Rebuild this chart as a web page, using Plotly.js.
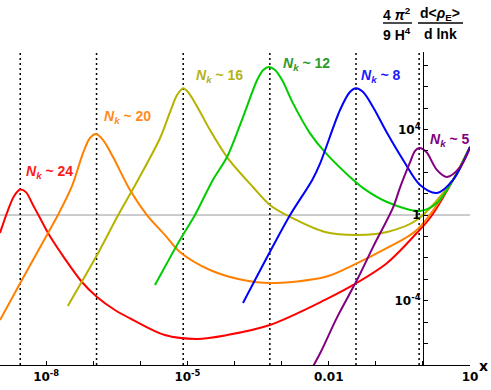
<!DOCTYPE html>
<html>
<head>
<meta charset="utf-8">
<script src="https://cdn.plot.ly/plotly-3.0.1.min.js"></script>
<style>
  html, body { margin: 0; padding: 0; background: #fff; }
  #chart { width: 491px; height: 390px; }
</style>
</head>
<body>
<div id="chart"></div>
<script>
// curves, as log10(x) and log10(y)
const redLogX = [-8.98, -8.81, -8.68, -8.55, -8.43, -8.28, -8.13, -7.96, -7.70, -7.24, -6.92, -6.54, -6.15, -5.48, -4.80, -4.16, -3.25, -2.08, -1.48, -0.76, -0.13, 0.15, 0.64, 1.0];
const redLogY = [-0.84, 0.23, 0.89, 1.19, 1.07, 0.47, -0.14, -0.84, -1.73, -3.13, -3.83, -4.44, -4.91, -5.61, -5.79, -5.61, -5.14, -3.97, -3.27, -2.24, -0.84, -0.14, 1.64, 3.18];

const orangeLogX = [-8.98, -8.55, -7.96, -7.75, -7.45, -7.21, -7.07, -6.94, -6.79, -6.58, -6.22, -5.86, -5.48, -5.16, -4.52, -3.82, -3.25, -2.08, -1.48, -0.76, -0.13, 0.64, 1.0];
const orangeLogY = [-4.91, -3.18, -0.84, 0, 1.36, 2.94, 3.60, 3.79, 3.50, 2.71, 1.17, 0, -0.93, -1.73, -2.57, -3.04, -3.18, -2.90, -2.34, -1.54, -0.70, 1.64, 3.18];

const yellowLogX = [-7.54, -6.92, -6.47, -6.05, -5.58, -5.37, -5.22, -5.09, -4.97, -4.73, -4.52, -4.16, -3.61, -3.25, -2.82, -2.08, -1.40, -0.76, -0.13, 0.64, 1.0];
const yellowLogY = [-4.25, -1.87, 0, 1.64, 3.60, 4.81, 5.61, 5.93, 5.70, 4.81, 3.97, 2.71, 1.31, 0.47, -0.09, -0.79, -0.93, -0.79, -0.23, 1.64, 3.18];

const greenLogX = [-5.69, -5.48, -5.16, -4.84, -4.46, -4.16, -3.82, -3.52, -3.39, -3.27, -3.14, -2.99, -2.76, -2.40, -2.08, -1.48, -1.27, -0.76, -0.06, 0.30, 0.64, 1.0];
const greenLogY = [-3.27, -2.43, -1.17, 0, 1.64, 2.71, 4.58, 6.31, 6.78, 6.92, 6.78, 6.31, 5.23, 3.83, 2.94, 1.64, 1.26, 0.61, 0.19, 0.56, 1.64, 3.18];

const blueLogX = [-3.82, -3.25, -2.82, -2.35, -2.18, -1.76, -1.55, -1.42, -1.27, -1.06, -0.76, -0.42, -0.06, 0.30, 0.64, 1.0];
const blueLogY = [-4.11, -1.73, 0, 1.64, 2.43, 4.91, 5.75, 5.93, 5.75, 5.05, 3.83, 2.57, 1.40, 1.03, 1.64, 3.18];

const purpleLogX = [-2.40, -2.18, -1.82, -1.40, -1.06, -0.63, -0.49, -0.27, -0.17, -0.08, 0.0, 0.09, 0.30, 0.51, 0.79, 1.0];
const purpleLogY = [-7.34, -6.45, -4.77, -3.04, -1.50, 0.37, 1.26, 2.48, 2.99, 3.13, 3.08, 2.90, 2.10, 1.78, 2.24, 3.13];

// positions of the peaks (dotted lines), log10(x)
const peakLogX = [-8.55, -6.93, -5.09, -3.25, -1.42, -0.08];

const labels = ["24", "20", "16", "12", "8", "5"];
const curveColors = ["#ff0000", "#ff8000", "#b3b300", "#00cc00", "#0000ff", "#800080"];
const labelColors = ["#ff1a1a", "#ff8c1a", "#b3b31a", "#2e992e", "#1a1aff", "#800080"];
// label centres in pixels of the picture
const labelPx = [[49, 172], [127, 117], [219, 76], [306, 64], [381, 76], [450, 140]];

const xTickExp = [-8, -7, -6, -5, -4, -3, -2, -1, 0, 1];
const xTickText = ["10<sup>-8</sup>", "", "", "10<sup>-5</sup>", "", "", "0.01", "", "", "10"];
const yTickExp = [-7, -6, -5, -4, -3, -2, -1, 0, 1, 2, 3, 4, 5, 6, 7];
const yTickText = ["", "", "", "10<sup>-4</sup>", "", "", "", "1", "", "", "", "10<sup>4</sup>", "", "", ""];

const xRange = [-8.98, 1.0];
const yRange = [-7.01, 7.62];

const pow = (a) => a.map((v) => Math.pow(10, v));

const curves = [
  [redLogX, redLogY], [orangeLogX, orangeLogY], [yellowLogX, yellowLogY],
  [greenLogX, greenLogY], [blueLogX, blueLogY], [purpleLogX, purpleLogY],
];

const traces = curves.map(([lx, ly], i) => ({
  x: pow(lx),
  y: pow(ly),
  type: "scatter",
  mode: "lines",
  line: { color: curveColors[i], width: 2, shape: "spline", smoothing: 0.9 },
  hoverinfo: "skip",
}));

// plot area in pixels
const L = 0, R = 21, T = 52, B = 25, W = 491, H = 390;
const pw = W - L - R, ph = H - T - B;
const px = (x) => (x - L) / pw;
const py = (y) => (H - B - y) / ph;

const tickFont = { family: "DejaVu Sans", size: 12, color: "#000", weight: "bold" };

const shapes = [
  { type: "line", xref: "paper", x0: 0, x1: 1, yref: "y", y0: 1, y1: 1, layer: "below",
    line: { color: "#999", width: 1 } },
  ...peakLogX.map((v) => ({
    type: "line", xref: "x", x0: Math.pow(10, v), x1: Math.pow(10, v), yref: "paper", y0: 0, y1: 1,
    layer: "below", line: { color: "#000", width: 1.5, dash: "2px,3px" },
  })),
  { type: "line", xref: "paper", yref: "paper", x0: px(383), x1: px(412), y0: py(23), y1: py(23),
    line: { color: "#000", width: 1.4 } },
  { type: "line", xref: "paper", yref: "paper", x0: px(418), x1: px(463), y0: py(23), y1: py(23),
    line: { color: "#000", width: 1.4 } },
];

const labFont = { family: "Liberation Sans", size: 14, weight: "bold" };
const fracFont = { ...labFont, size: 14, color: "#000" };
const annotations = [
  ...labels.map((t, i) => ({
    xref: "paper", yref: "paper", x: px(labelPx[i][0]), y: py(labelPx[i][1]),
    xanchor: "center", yanchor: "middle", showarrow: false,
    text: `<i>N<sub>k</sub></i> ~ ${t}`,
    font: { ...labFont, color: labelColors[i] },
  })),
  { xref: "paper", yref: "paper", x: px(397), y: py(14), xanchor: "center", yanchor: "middle",
    showarrow: false, text: "4 <i>π</i><sup>2</sup>", font: fracFont },
  { xref: "paper", yref: "paper", x: px(397), y: py(34), xanchor: "center", yanchor: "middle",
    showarrow: false, text: "9 H<sup>4</sup>", font: fracFont },
  { xref: "paper", yref: "paper", x: px(440), y: py(14), xanchor: "center", yanchor: "middle",
    showarrow: false, text: "d&lt;<i>ρ</i><sub>E</sub>&gt;", font: fracFont },
  { xref: "paper", yref: "paper", x: px(440), y: py(34), xanchor: "center", yanchor: "middle",
    showarrow: false, text: "d lnk", font: fracFont },
  { xref: "paper", yref: "paper", x: px(484), y: py(366), xanchor: "center", yanchor: "middle",
    showarrow: false, text: "x", font: { family: "DejaVu Sans", size: 14, weight: "bold", color: "#000" } },
];

const layout = {
  width: W, height: H,
  margin: { l: L, r: R, t: T, b: B },
  paper_bgcolor: "#fff", plot_bgcolor: "#fff",
  showlegend: false,
  xaxis: {
    type: "log", range: xRange,
    showgrid: false, zeroline: false,
    showline: true, linecolor: "#000", linewidth: 1.3,
    ticks: "inside", ticklen: 4, tickcolor: "#000", tickwidth: 1,
    tickmode: "array", tickvals: pow(xTickExp), ticktext: xTickText,
    tickfont: tickFont,
  },
  yaxis: {
    type: "log", range: yRange,
    anchor: "free", position: (0 - xRange[0]) / (xRange[1] - xRange[0]),
    showgrid: false, zeroline: false,
    showline: true, linecolor: "#000", linewidth: 1.5,
    ticks: "inside", ticklen: 4, tickcolor: "#000", tickwidth: 1,
    tickmode: "array", tickvals: pow(yTickExp), ticktext: yTickText,
    tickfont: tickFont,
  },
  shapes,
  annotations,
};

Plotly.newPlot("chart", traces, layout, { displayModeBar: false, staticPlot: true });
</script>
</body>
</html>
